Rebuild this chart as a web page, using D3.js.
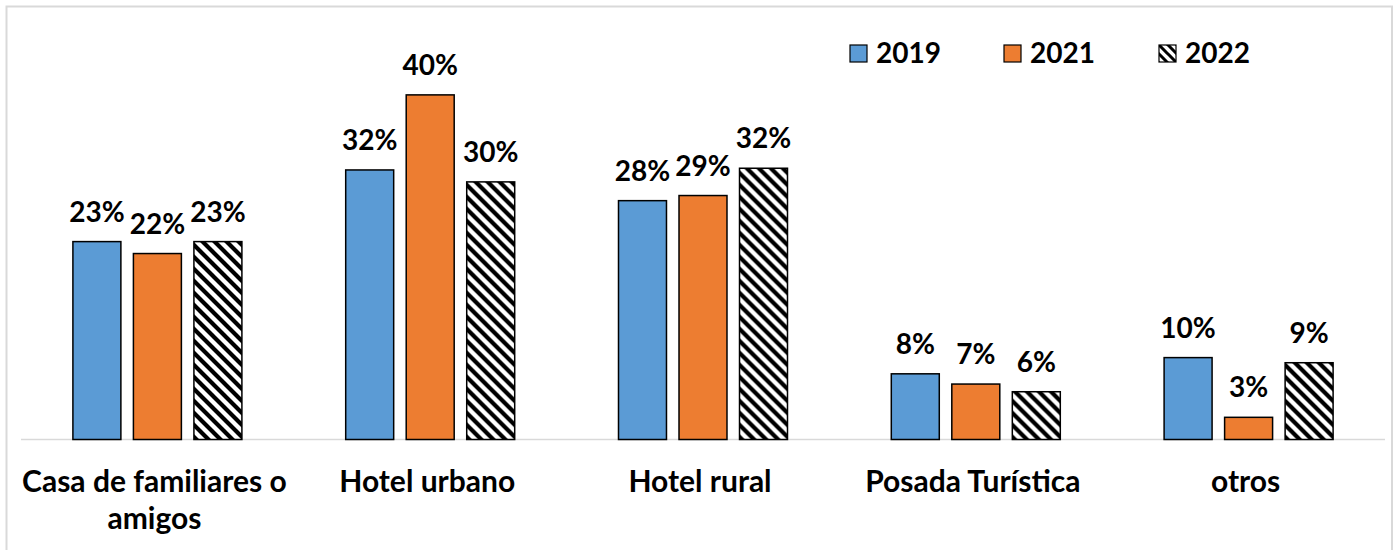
<!DOCTYPE html>
<html><head><meta charset="utf-8">
<script src="https://cdn.jsdelivr.net/npm/d3@7"></script>
<style>body{margin:0;background:#fff}svg{display:block}text{font-family:Lato,"Open Sans",sans-serif;font-weight:bold;fill:#000}</style>
</head><body>
<svg id="c" width="1396" height="550"></svg>
<script>
const categories = ["Casa de familiares o amigos", "Hotel urbano", "Hotel rural", "Posada Turística", "otros"];
const series = ["2019", "2021", "2022"];
const values2019 = [23.2, 31.6, 28.0, 7.7, 9.6];
const values2021 = [21.8, 40.4, 28.6, 6.5, 2.6];
const values2022 = [23.2, 30.2, 31.8, 5.6, 9.0];
const seriesValues = [values2019, values2021, values2022];
const colors = ["#5B9BD5", "#ED7D31", "url(#hatch)"];

const svg = d3.select("#c");
const defs = svg.append("defs");
const pat = defs.append("pattern").attr("id","hatch").attr("patternUnits","userSpaceOnUse")
  .attr("width",12).attr("height",12);
pat.append("rect").attr("width",12).attr("height",12).attr("fill","#fff");
pat.append("path").attr("d","M-3,-3 L15,15 M-3,9 L3,15 M9,-3 L15,3").attr("stroke","#000").attr("stroke-width",4.2);
const patL = defs.append("pattern").attr("id","hatchL").attr("patternUnits","userSpaceOnUse")
  .attr("width",9).attr("height",9);
patL.append("rect").attr("width",9).attr("height",9).attr("fill","#fff");
patL.append("path").attr("d","M-3,-3 L12,12 M-3,6 L3,12 M6,-3 L12,3").attr("stroke","#000").attr("stroke-width",3);

// frame
svg.append("rect").attr("x",6.5).attr("y",6.5).attr("width",1385.5).attr("height",600)
  .attr("fill","none").attr("stroke","#d9d9d9").attr("stroke-width",2);

const baseY = 439.5;
const x0 = d3.scaleBand().domain(categories).range([21, 1385]).paddingInner(0).paddingOuter(0);
const innerW = 169;
const off = (x0.bandwidth() - innerW) / 2;
const x1 = d3.scaleBand().domain(series).range([off, off + innerW]).paddingInner(0.207).paddingOuter(0);
const y = d3.scaleLinear().domain([0, 50]).range([baseY, baseY - 426.5]);

// baseline
svg.append("line").attr("x1",21).attr("x2",1385).attr("y1",baseY).attr("y2",baseY)
  .attr("stroke","#d9d9d9").attr("stroke-width",1.5);

const groups = svg.selectAll("g.grp").data(categories).join("g").attr("class","grp")
  .attr("transform", d => `translate(${x0(d)},0)`);

series.forEach((s, si) => {
  groups.append("rect")
    .attr("x", x1(s)).attr("width", x1.bandwidth())
    .attr("y", (d, i) => y(seriesValues[si][i]))
    .attr("height", (d, i) => baseY - y(seriesValues[si][i]))
    .attr("fill", colors[si]).attr("stroke", "#000").attr("stroke-width", 1.5);
  groups.append("text")
    .attr("x", x1(s) + x1.bandwidth()/2)
    .attr("y", (d, i) => y(seriesValues[si][i]) - 20)
    .attr("text-anchor","middle").attr("font-size", 28)
    .text((d, i) => Math.round(seriesValues[si][i]) + "%");
});

// category labels
const catLines = {"Casa de familiares o amigos": ["Casa de familiares o", "amigos"]};
groups.each(function(d) {
  const lines = catLines[d] || [d];
  const t = d3.select(this).append("text").attr("text-anchor","middle").attr("font-size", 30);
  lines.forEach((l, li) => {
    t.append("tspan").attr("x", x0.bandwidth()/2 - 3).attr("y", 492 + li*37).text(l);
  });
});

// legend
const legendX = [850, 1004, 1159];
const lg = svg.selectAll("g.leg").data(series).join("g").attr("class","leg")
  .attr("transform", (d,i) => `translate(${legendX[i]},45)`);
lg.append("rect").attr("width",17).attr("height",17)
  .attr("fill", (d,i) => i === 2 ? "url(#hatchL)" : colors[i]).attr("stroke","#000").attr("stroke-width",1.2);
lg.append("text").attr("x",26).attr("y",18).attr("font-size",28).text(d => d);
</script>
</body></html>
